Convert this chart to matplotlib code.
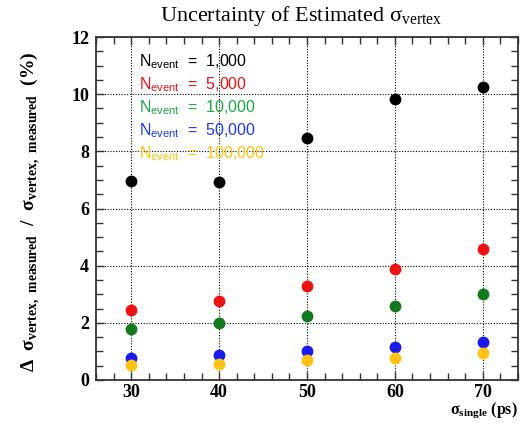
import matplotlib
matplotlib.use("Agg")
import matplotlib.pyplot as plt
from matplotlib.ticker import MultipleLocator

plt.rcParams["mathtext.fontset"] = "custom"
plt.rcParams["mathtext.rm"] = "Liberation Serif"
plt.rcParams["mathtext.bf"] = "Liberation Serif:bold"
plt.rcParams["mathtext.sf"] = "Liberation Sans"

# sigma_single (ps)
sigma_single = [30, 40, 50, 60, 70]

# relative uncertainty (%) for each number of events
unc_1000 = [6.97, 6.92, 8.47, 9.83, 10.26]
unc_5000 = [2.45, 2.77, 3.29, 3.90, 4.60]
unc_10000 = [1.78, 2.00, 2.24, 2.58, 3.00]
unc_50000 = [0.76, 0.87, 1.01, 1.17, 1.34]
unc_100000 = [0.52, 0.56, 0.70, 0.78, 0.95]

labels = ["1,000", "5,000", "10,000", "50,000", "100,000"]
series = [unc_1000, unc_5000, unc_10000, unc_50000, unc_100000]
marker_colors = ["#000000", "#ee1111", "#127a1c", "#1a1aee", "#ffc20e"]
text_colors = ["#000000", "#ee1111", "#1aa845", "#1a3aee", "#ffc20e"]

fig = plt.figure(figsize=(5.21, 4.25), dpi=100)
ax = fig.add_axes([96 / 521, 1 - 380 / 425, (518 - 96) / 521, (380 - 37) / 425])

for vals, col in zip(series, marker_colors):
    ax.plot(sigma_single, vals, "o", color=col, markersize=7.5, zorder=3)

ax.set_xlim(26, 74)
ax.set_ylim(0, 12)
ax.xaxis.set_major_locator(MultipleLocator(10))
ax.xaxis.set_minor_locator(MultipleLocator(2))
ax.yaxis.set_major_locator(MultipleLocator(2))
ax.yaxis.set_minor_locator(MultipleLocator(0.5))
ax.grid(True, which="major", color="black", linestyle=(0, (1, 1.5)), linewidth=0.8)
ax.tick_params(which="both", direction="in", top=True, right=True, color="#333333", width=1.0)
ax.tick_params(which="major", length=6)
ax.tick_params(which="minor", length=5)
for sp in ax.spines.values():
    sp.set_linewidth(1.3)
    sp.set_color("#333333")

for lab in ax.get_xticklabels() + ax.get_yticklabels():
    lab.set_family("Liberation Serif")
    lab.set_fontweight("bold")
    lab.set_fontsize(13)
ax.tick_params(axis="x", pad=3)
ax.tick_params(axis="y", pad=5)

for i, (lab, col) in enumerate(zip(labels, text_colors)):
    ax.text(0.103, 0.927 - i * 0.067, "N$_{\\mathsf{event}}$  =  " + lab,
            transform=ax.transAxes, color=col, fontsize=11.5,
            family="Liberation Sans", va="center", ha="left")

fig.text(0.578, 0.962, "Uncertainty of Estimated σ$_{\\rm vertex}$",
         family="Liberation Serif", fontsize=16, ha="center", va="center")

ax.set_xlabel("σ$_{\\mathbf{single}}$ (ps)", family="Liberation Serif",
              fontweight="bold", fontsize=11.5)
ax.xaxis.set_label_coords(1.0, -0.06)
ax.xaxis.label.set_ha("right")
ax.xaxis.label.set_va("top")

ax.set_ylabel("Δ  σ$_{\\mathbf{vertex,\\ measured}}$  /  σ$_{\\mathbf{vertex,\\ measured}}$  (%)",
              family="Liberation Serif", fontweight="bold", fontsize=14)
ax.yaxis.set_label_coords(-0.125, 0.49)

fig.savefig("out.png", dpi=100)
